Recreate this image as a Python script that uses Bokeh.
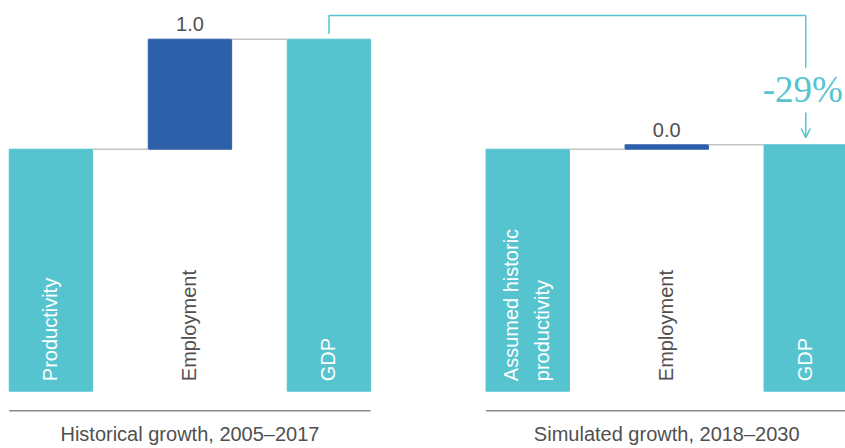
import math
from bokeh.plotting import figure
from bokeh.models import Range1d, Arrow, OpenHead, Label
from bokeh.core.properties import value
from bokeh.embed import file_html
from bokeh.resources import INLINE

# ---- data ----
hist_labels = ["Productivity", "Employment", "GDP"]
hist_values = [2.2, 1.0, 3.2]
sim_labels = ["Assumed historic\nproductivity", "Employment", "GDP"]
sim_values = [2.2, 0.04, 2.24]
group_titles = ["Historical growth, 2005–2017", "Simulated growth, 2018–2030"]
change_label = "-29%"

# ---- styles ----
TEAL = "#56c4cf"
BLUE = "#2e60aa"
CONN = "#c4c4c4"
BASE = "#8a8a8a"
TXT = "#505050"
FONT = value("Liberation Sans")
BW = 0.6

p = figure(width=845, height=448, x_range=Range1d(-0.363, 5.716),
           y_range=Range1d(-0.521, 3.552), output_backend="svg",
           toolbar_location=None, min_border=0,
           x_axis_location=None, y_axis_location=None)
p.grid.visible = False
p.outline_line_color = None

groups = [(0.0, hist_labels, hist_values, group_titles[0]),
          (3.43, sim_labels, sim_values, group_titles[1])]

for off, labels, vals, title in groups:
    xs = [off + i for i in range(3)]
    bottoms = [0, vals[0], 0]
    tops = [vals[0], vals[0] + vals[1], vals[2]]
    colors = [TEAL, BLUE, TEAL]
    p.vbar(x=xs, width=BW, bottom=bottoms, top=tops, color=colors)
    # connectors
    p.segment(x0=[xs[0] + BW / 2, xs[1] + BW / 2], y0=[tops[0], tops[1]],
              x1=[xs[1] - BW / 2, xs[2] - BW / 2], y1=[tops[0], tops[1]],
              line_color=CONN, line_width=1.5)
    # value label on employment bar
    p.text(x=[xs[1]], y=[tops[1]], text=[f"{vals[1]:.1f}"], y_offset=-15,
           text_align="center", text_baseline="alphabetic",
           text_font=FONT, text_font_size="20px", text_color=TXT)
    # rotated category labels
    p.text(x=xs, y=[0, 0, 0], text=labels, angle=math.pi / 2, y_offset=-10,
           x_offset=-1, text_align="left", text_baseline="middle",
           text_line_height=1.4, text_font=FONT, text_font_size="20px",
           text_color=["white", TXT, "white"])
    # baseline
    p.segment(x0=[xs[0] - BW / 2], y0=[-0.178], x1=[xs[2] + BW / 2], y1=[-0.178],
              line_color=BASE, line_width=1.3)
    # group title
    p.text(x=[xs[1]], y=[-0.457], text=[title], y_offset=-7, text_align="center",
           text_baseline="alphabetic", text_font=FONT, text_font_size="20px",
           text_color=TXT)

# change bracket
xg_h = groups[0][0] + 2
xg_s = groups[1][0] + 2
gdp_h = hist_values[2]
gdp_s = sim_values[2]
p.line(x=[xg_h, xg_h, xg_s, xg_s],
       y=[gdp_h + 0.05, gdp_h + 0.215, gdp_h + 0.215, gdp_s + 0.70],
       line_color=TEAL, line_width=1.5)
p.add_layout(Label(x=xg_s, y=gdp_s + 0.385, text=change_label, y_offset=13, x_offset=-3,
                   text_align="center", text_baseline="alphabetic",
                   text_font="Liberation Serif", text_font_size="37px",
                   text_color=TEAL))
p.add_layout(Arrow(end=OpenHead(size=9, line_color=TEAL, line_width=1.5),
                   x_start=xg_s, y_start=gdp_s + 0.294, x_end=xg_s, y_end=gdp_s + 0.066,
                   line_color=TEAL, line_width=1.5))

open("out.html", "w").write(file_html(p, INLINE))
